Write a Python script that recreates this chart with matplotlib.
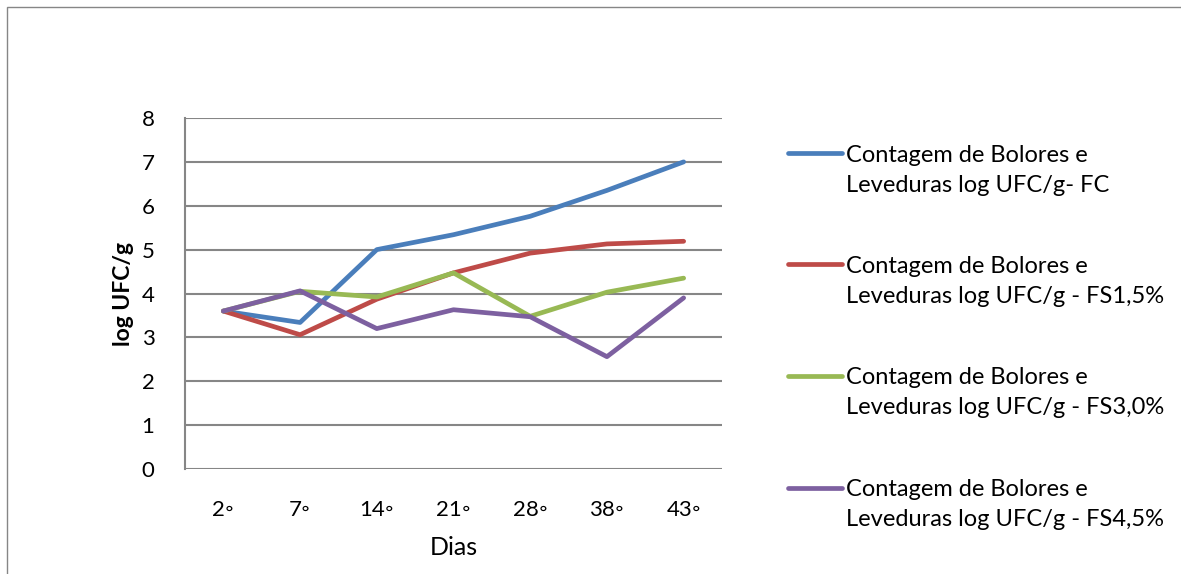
import matplotlib
matplotlib.use("Agg")
import matplotlib.pyplot as plt
from matplotlib.lines import Line2D
from matplotlib.patches import Rectangle

plt.rcParams['font.family'] = ['Lato', 'DejaVu Sans']

dias = ["2◦", "7◦", "14◦", "21◦", "28◦", "38◦", "43◦"]

fc = [3.60, 3.34, 5.00, 5.34, 5.76, 6.35, 7.00]
fs15 = [3.60, 3.06, 3.87, 4.47, 4.92, 5.13, 5.19]
fs30 = [3.60, 4.05, 3.92, 4.47, 3.48, 4.03, 4.35]
fs45 = [3.60, 4.06, 3.20, 3.63, 3.47, 2.56, 3.90]

series_labels = [
    ("Contagem de Bolores e", "Leveduras log UFC/g- FC"),
    ("Contagem de Bolores e", "Leveduras log UFC/g - FS1,5%"),
    ("Contagem de Bolores e", "Leveduras log UFC/g - FS3,0%"),
    ("Contagem de Bolores e", "Leveduras log UFC/g - FS4,5%"),
]
colors = ["#4A7EBB", "#BE4B48", "#98B954", "#7D60A0"]

W, H = 1181, 574
fig = plt.figure(figsize=(W / 100, H / 100), dpi=100)

# outer chart frame
fig.patches.append(Rectangle((7 / W, -0.05), 1.1, 1 - 7 / H + 0.05,
                             transform=fig.transFigure, fill=False,
                             edgecolor="#868686", linewidth=1.0))

ax = fig.add_axes([185 / W, 1 - 469 / H, (722 - 185) / W, (469 - 118) / H])
x = list(range(len(dias)))
for vals, c in zip([fc, fs15, fs30, fs45], colors):
    ax.plot(x, vals, color=c, linewidth=3.4, solid_capstyle="round",
            solid_joinstyle="round")

ax.set_xlim(-0.5, len(dias) - 0.5)
ax.set_ylim(0, 8)
ax.set_yticks(range(0, 9))
ax.set_xticks(x)
ax.set_xticklabels(dias)
ax.tick_params(axis="both", length=0, labelsize=16, colors="black")
ax.tick_params(axis="y", pad=22)
ax.tick_params(axis="x", pad=22)
ax.grid(axis="y", color="#868686", linewidth=1.5)
ax.set_axisbelow(True)
for s in ["top", "right", "bottom"]:
    ax.spines[s].set_visible(False)
ax.spines["left"].set_color("#868686")
ax.spines["left"].set_linewidth(1.5)

ax.set_ylabel("log UFC/g", fontsize=16.5, fontweight="bold", labelpad=5)
ax.set_xlabel("Dias", fontsize=18, labelpad=12)

# legend drawn beside the plot
for i, ((l1, l2), c) in enumerate(zip(series_labels, colors)):
    y0 = 153 + 111.5 * i
    fig.lines.append(Line2D([788 / W, 842 / W], [1 - y0 / H, 1 - y0 / H],
                            transform=fig.transFigure, color=c,
                            linewidth=3.4, solid_capstyle="round"))
    fig.text(846 / W, 1 - (y0 + 2) / H, l1, fontsize=17, va="center", ha="left")
    fig.text(846 / W, 1 - (y0 + 32) / H, l2, fontsize=17, va="center", ha="left")

fig.savefig("out.png", dpi=100)
